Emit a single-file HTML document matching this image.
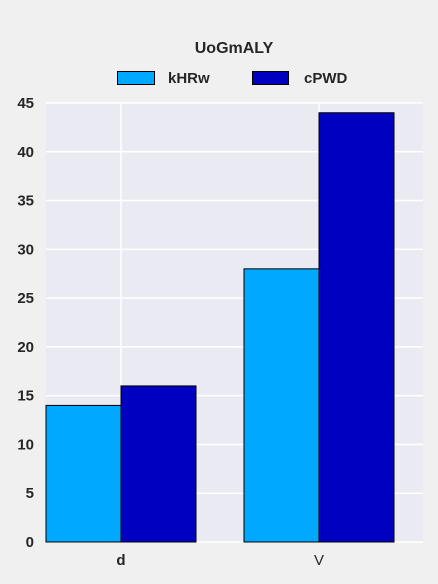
<!DOCTYPE html>
<html><head><meta charset="utf-8"><style>
html,body{margin:0;padding:0;overflow:hidden;background:#f0f0f0;font-family:"Liberation Sans",sans-serif;}
svg{display:block;}
</style></head><body>
<svg id="c" width="438" height="584" xmlns="http://www.w3.org/2000/svg">
<rect width="438" height="584" fill="#f0f0f0"/>
<text x="234" y="53" text-anchor="middle" font-size="16" font-weight="bold" fill="#262626">UoGmALY</text>
<g>
<rect x="117.5" y="71.5" width="37" height="13" fill="#00a8ff" stroke="#000"/>
<text x="168" y="83" font-size="15" font-weight="bold" fill="#262626">kHRw</text>
<rect x="252.5" y="71.5" width="36" height="13" fill="#0000c0" stroke="#000"/>
<text x="304" y="83" font-size="15" font-weight="bold" fill="#262626">cPWD</text>
</g>
<rect x="46" y="103" width="377" height="439" fill="#eaeaf2"/>
<g id="grid"></g><g id="bars"></g><g id="ticks"></g>
</svg>
<script>
const categories=["d","V"];
const seriesNames=["kHRw","cPWD"];
const khrw=[14,28];
const cpwd=[16,44];
const yTicks=[0,5,10,15,20,25,30,35,40,45];
const NS="http://www.w3.org/2000/svg";
const y0=542,yTop=103,yMax=45;
function yS(v){return y0-(y0-yTop)*v/yMax;}
function xS(i){return 121+198*i;}
const bw=75;
function mk(t,a,p){const e=document.createElementNS(NS,t);for(const k in a)e.setAttribute(k,a[k]);document.getElementById(p).appendChild(e);return e;}
yTicks.forEach(v=>{
const l=mk('line',{x1:46,x2:423,y1:yS(v),y2:yS(v),stroke:'#fff','stroke-width':1.5},'grid');


const t=mk('text',{x:34,y:yS(v)+5,'text-anchor':'end','font-size':15,'font-weight':'bold',fill:'#262626'},'ticks');
t.textContent=v;


});
categories.forEach((c,i)=>{
const l=mk('line',{x1:xS(i),x2:xS(i),y1:yTop,y2:y0,stroke:'#fff','stroke-width':1.5},'grid');


const t=mk('text',{x:xS(i),y:565,'text-anchor':'middle','font-size':15,'font-weight':i==0?'bold':'normal',fill:'#262626'},'ticks');
t.textContent=c;


});
[[khrw,'#00a8ff',-1],[cpwd,'#0000c0',0]].forEach(([arr,col,off],s)=>{
arr.forEach((v,i)=>{
const r=mk('rect',{x:xS(i)+off*bw,y:yS(v),width:bw,height:y0-yS(v),fill:col,stroke:'#000','stroke-width':1},'bars');


});
});
</script>
</body></html>
